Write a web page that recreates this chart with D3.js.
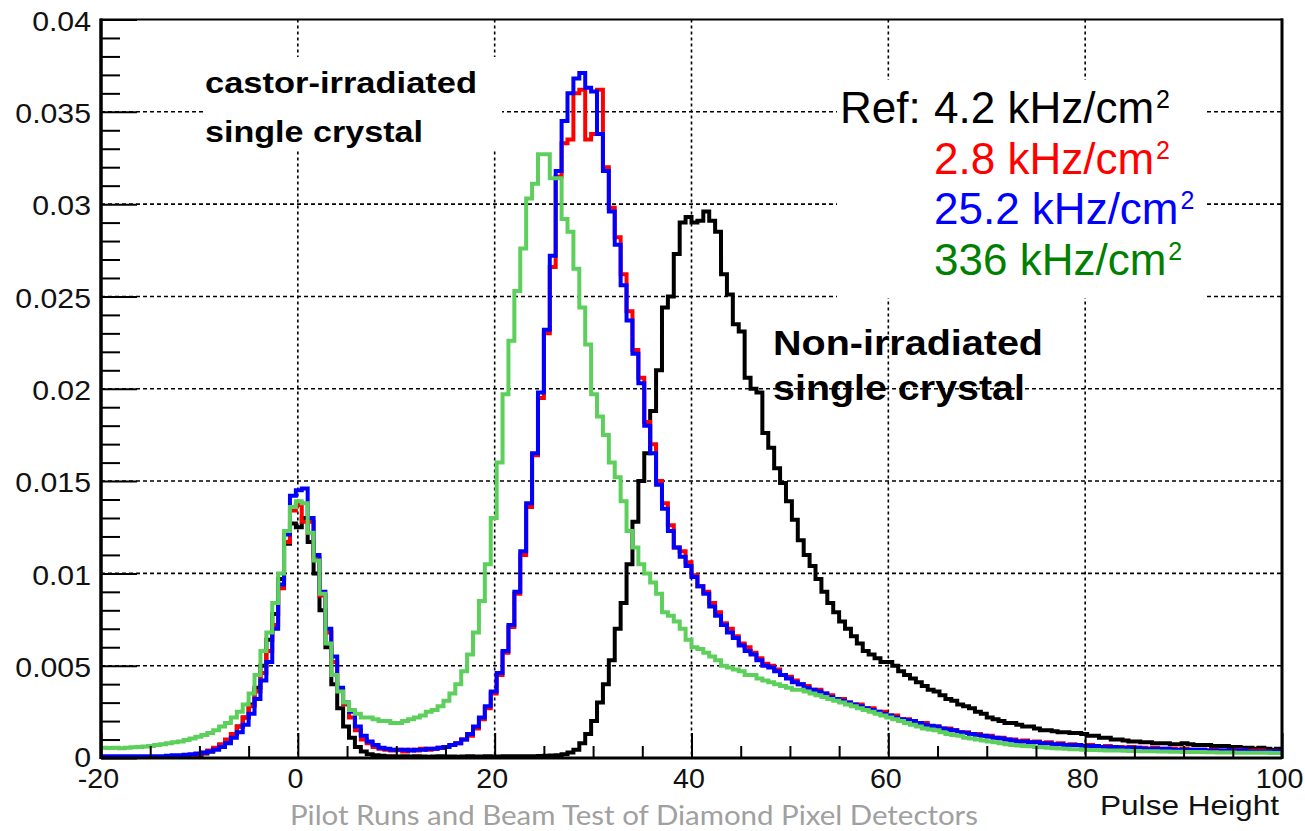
<!DOCTYPE html>
<html><head><meta charset="utf-8">
<script src="https://cdn.jsdelivr.net/npm/d3@7"></script>
<style>html,body{margin:0;padding:0;background:#fff;} svg{display:block;}</style>
</head><body>
<svg id="chart" width="1305" height="831"></svg>
<script>
// ---- data (bin contents in units of 1e-4, bins of 0.6 from -20 to 100) ----
const UNIT = 1e-4;
const BIN_START = -20, BIN_WIDTH = 0.6;

const refBlack = [
0.5,0.5,0.5,0.5,0.5,0.5,0.5,0.5,0.5,0.5,
0.5,0.6,0.7,0.8,1.0,1.2,1.6,2.4,3.5,5,
7,9.5,13,17,22,29,38,50,64,78,
97,116,127,125,130,117,100,80,60,40,
27,17,11,6,3.5,2,1.5,1.2,1.0,0.9,
0.8,1.0,0.8,0.9,0.8,0.7,0.8,0.9,0.8,0.8,
0.7,0.8,0.9,0.8,0.8,0.9,0.8,0.8,0.9,0.9,
1.0,0.9,1.0,1.0,1.1,1.2,1.3,1.5,2,3,
4.5,8,13,20,30,40,53,70,84,105,
128,150,165,188,210,244,250,273,290,293,
290,291,296,291,285,262,251,235,231,206,
200,198,176,168,157,149,139,129,118,110,
104,97,90,84,79,74,70,66,62,58,
56,54,52,52,50,47,45,43,41,39,
37,36,34,32,31,29,28,27,25,24,
22,21,20,19,19,18,17,17,16,15,
15,14.5,14,14,13.5,13.5,13,12,12,11,
11,10,10,9.5,9,9,8.5,8.5,8,8,
8,7.5,7.5,8,7.5,7,7,7,6.5,6.5,
6.5,6,6,5.5,5.5,5,5.5,5,4.5,5];

const red28 = [
0.5,0.4,0.6,0.5,0.5,0.4,0.6,0.5,0.6,0.5,
0.6,0.7,0.8,1.0,1.2,1.5,2,2.8,4,5.5,
7.5,10,13,17,22,28,36,46,58,72,
92,117,134,137,128,128,108,88,68,52,
37,29,22,15,10,8,6,5,4.5,4,
4.5,3.5,4.5,4,5,4.5,5,5.5,6,7,
8,10,12,16,21,27,35,45,57,71,
89,110,136,164,195,230,266,315,333,335,
360,362,335,338,362,320,298,282,262,242,
221,206,182,170,150,138,126,114,112,106,
99,93,90,84,79,73,70,66,62,60,
57,54,51,50,48,45,44,42,40,39,
37,37,35,34,32,32,30,29,29,27,
27,25,25,23,23,21,21,20,19,19,
17,17,16,16,15,14,14,13,13,12,
12,11,11,10,10,9,9.5,8.5,9,8,
8.5,7.5,8,7,7.5,7,6.5,7,6.5,6,
6.5,6,6,5.5,6,5.5,5.5,5,5.5,5,
5,5,4.5,5,4.5,4.5,4.5,4,4.5,4,
4,4,4.5,4,3.5,4,4,3.5,3.5,3.5];

const blue252 = [
1,1,1,1,1,1,1,1,1,1,
1,1.2,1.5,1.5,1.8,2,2.5,3,3.5,4.5,
6,8,11,14,18,24,32,42,52,70,
94,121,142,145,146,130,110,90,70,55,
38,30,25,17,12,9,7,5.5,5,4.5,
4.5,4.5,4,4.5,4.5,5,5,5.5,6,7,
8,10,13,17,22,28,36,46,58,72,
90,112,138,165,198,232,272,318,345,360,
368,371,363,361,338,318,296,278,256,237,
219,203,180,165,148,135,123,114,109,104,
98,93,89,82,77,72,68,65,61,58,
56,53,50,49,47,45,43,41,40,38,
37,36,35,33,32,31,30,29,28,27,
26,25,24,23,22,21,20.5,20,19,18,
17.5,17,16,15.5,15,14,13.5,13,12.5,12,
11.5,11,10.5,10,9.5,9,9,8.5,8.5,8,
8,7.5,7.5,7,7,7,6.5,6.5,6.5,6,
6,6,5.5,5.5,5.5,5.5,5,5,5,5,
5,4.5,4.5,4.5,4.5,4.5,4.5,4,4,4,
4,4,4,4,3.5,3.5,3.5,3.5,3.5,3.5];

const green336 = [
5.5,5.4,5.5,5.3,5.6,5.8,6.0,6.2,6.5,7,
7.5,8,8.5,9,9.7,10.5,11.5,12.5,13.5,15,
17,19,22,25,29,35,45,58,68,84,
100,123,136,139,138,122,107,89,62,45,
36,30,26,24,22,22,21,20,20,19,
19,20,21,22,23,25,26,28,31,35,
40,47,56,68,85,105,130,160,197,226,
253,276,303,311,327,327,314,314,292,285,
265,244,224,197,185,175,160,152,139,123,
114,105,100,95,89,79,77,74,70,64,
60,59,57,55,53,50,49,48,47,45,
45,43,42,41,40,39,38,37,37,36,
35,34,33,32,31,30,29,28,27,26,
25,24,23,22,21,20,19,18,17,16,
15.5,15,14,13,12.5,12,11,10.5,10,9.5,
9,8.5,8,7.5,7,6.8,6.5,6.3,6,5.8,
5.5,5.3,5.2,5,4.8,4.7,4.5,4.4,4.3,4.2,
4.1,4.0,4.0,3.9,3.8,3.8,3.7,3.6,3.6,3.5,
3.5,3.4,3.4,3.3,3.3,3.2,3.2,3.1,3.1,3.0,
3.0,3.0,2.9,2.9,2.9,2.8,2.8,2.8,2.7,2.7];

const xTickValues = [-20, 0, 20, 40, 60, 80, 100];
const xTickLabels = ["-20", "0", "20", "40", "60", "80", "100"];
const yTickValues = [0, 0.005, 0.01, 0.015, 0.02, 0.025, 0.03, 0.035, 0.04];
const yTickLabels = ["0", "0.005", "0.01", "0.015", "0.02", "0.025", "0.03", "0.035", "0.04"];
const legendRates = ["4.2 kHz/cm", "2.8 kHz/cm", "25.2 kHz/cm", "336 kHz/cm"];
const legendColors = ["#000000", "#ff0000", "#0000ff", "#008000"];
const lineColors = ["#000000", "#ff0000", "#0000ff", "#5ccf5c"];
const xTitle = "Pulse Height";
const footer = "Pilot Runs and Beam Test of Diamond Pixel Detectors";

(function () {
const svg = d3.select("#chart");
const FONT = "'Liberation Sans', Arial, Helvetica, sans-serif";
const pL = 101, pR = 1282, pT = 19.5, pB = 758;
const x = d3.scaleLinear().domain([-20, 100]).range([pL, pR]);
const y = d3.scaleLinear().domain([0, 0.04]).range([pB, pT]);

svg.append("rect").attr("width", 1305).attr("height", 831).attr("fill", "#fff");

// grid
const grid = svg.append("g");
grid.selectAll("line.gx").data(xTickValues.slice(1, -1)).join("line")
  .attr("x1", d => x(d)).attr("x2", d => x(d)).attr("y1", pT).attr("y2", pB)
  .attr("stroke", "#000").attr("stroke-width", 1.6).attr("stroke-dasharray", "3,3");
grid.selectAll("line.gy").data(yTickValues.slice(1, -1)).join("line")
  .attr("y1", d => y(d)).attr("y2", d => y(d)).attr("x1", pL).attr("x2", pR)
  .attr("stroke", "#000").attr("stroke-width", 1.6).attr("stroke-dasharray", "4,3");

// white boxes behind the annotation / legend text
svg.append("rect").attr("x", 205).attr("y", 57).attr("width", 297).attr("height", 93).attr("fill", "#fff");
svg.append("rect").attr("x", 837).attr("y", 80).attr("width", 370).attr("height", 218).attr("fill", "#fff");

// histograms
svg.append("clipPath").attr("id", "plotclip").append("rect")
  .attr("x", pL).attr("y", pT).attr("width", pR - pL).attr("height", pB - pT);
const line = d3.line().x(d => x(d[0])).y(d => y(d[1])).curve(d3.curveStepAfter);
const seriesList = [refBlack, red28, blue252, green336];
const hg = svg.append("g").attr("clip-path", "url(#plotclip)");
seriesList.forEach((vals, k) => {
  const pts = vals.map((v, i) => [BIN_START + i * BIN_WIDTH, v * UNIT]);
  pts.push([BIN_START + vals.length * BIN_WIDTH, vals[vals.length - 1] * UNIT]);
  hg.append("path").attr("d", line(pts)).attr("fill", "none")
    .attr("stroke", lineColors[k]).attr("stroke-width", 4)
    .attr("stroke-linejoin", "miter").attr("stroke-linecap", "butt");
});

// frame
svg.append("rect").attr("x", pL).attr("y", pT).attr("width", pR - pL).attr("height", pB - pT)
  .attr("fill", "none").attr("stroke", "#000").attr("stroke-width", 2);
svg.append("line").attr("x1", pL).attr("x2", pL).attr("y1", pT - 1).attr("y2", pB + 1)
  .attr("stroke", "#000").attr("stroke-width", 3.5);
svg.append("line").attr("x1", pR).attr("x2", pR).attr("y1", pT - 1).attr("y2", pB + 1)
  .attr("stroke", "#000").attr("stroke-width", 3);
svg.append("line").attr("x1", pL).attr("x2", pR).attr("y1", pB).attr("y2", pB)
  .attr("stroke", "#000").attr("stroke-width", 3);

// y axis ticks (pointing inwards)
const yMinor = d3.range(0, 41).map(i => i * 0.001).filter((v, i) => i % 5 !== 0);
const yMajAxis = d3.axisRight(y).tickValues(yTickValues).tickSize(36).tickFormat("");
const yMinAxis = d3.axisRight(y).tickValues(yMinor).tickSize(19).tickFormat("");
[yMajAxis, yMinAxis].forEach(a => {
  const g = svg.append("g").attr("transform", `translate(${pL},0)`).call(a);
  g.select(".domain").remove();
  g.selectAll("line").attr("stroke", "#000").attr("stroke-width", 2);
});
const yLab = svg.append("g").attr("transform", `translate(${pL},0)`)
  .call(d3.axisLeft(y).tickValues(yTickValues).tickSize(0).tickPadding(10)
    .tickFormat((d, i) => yTickLabels[i]));
yLab.select(".domain").remove();
yLab.selectAll("text").attr("font-family", FONT).attr("font-size", 27).attr("fill", "#111")
  .attr("dy", (d, i) => i === 0 ? "0.3em" : "0.4em")
  .each(function () { const w = this.getComputedTextLength(); d3.select(this).attr("textLength", w * 1.12).attr("lengthAdjust", "spacingAndGlyphs"); });

// x axis ticks (pointing up)
const xMinor = d3.range(-20, 101, 5).filter(v => v % 20 !== 0);
const xMajAxis = d3.axisTop(x).tickValues(xTickValues).tickSize(25).tickFormat("");
const xMinAxis = d3.axisTop(x).tickValues(xMinor).tickSize(12).tickFormat("");
[xMajAxis, xMinAxis].forEach(a => {
  const g = svg.append("g").attr("transform", `translate(0,${pB})`).call(a);
  g.select(".domain").remove();
  g.selectAll("line").attr("stroke", "#000").attr("stroke-width", 2);
});
const xLab = svg.append("g").attr("transform", `translate(-3,${pB})`)
  .call(d3.axisBottom(x).tickValues(xTickValues).tickSize(0).tickPadding(11)
    .tickFormat((d, i) => xTickLabels[i]));
xLab.select(".domain").remove();
xLab.selectAll("text").attr("font-family", FONT).attr("font-size", 27).attr("fill", "#111")
  .each(function () { const w = this.getComputedTextLength(); d3.select(this).attr("textLength", w * 1.06).attr("lengthAdjust", "spacingAndGlyphs"); });

svg.append("text").attr("x", 1279).attr("y", 815).attr("text-anchor", "end")
  .attr("font-family", FONT).attr("font-size", 28).attr("fill", "#111")
  .attr("textLength", 179).attr("lengthAdjust", "spacingAndGlyphs").text(xTitle);

function boldText(tx, ty, size, len, str) {
  svg.append("text").attr("x", tx).attr("y", ty).attr("font-family", FONT)
    .attr("font-weight", "bold").attr("font-size", size).attr("fill", "#000")
    .attr("textLength", len).attr("lengthAdjust", "spacingAndGlyphs").text(str);
}
boldText(205, 93, 30, 272, "castor-irradiated");
boldText(205, 141.5, 30, 218, "single crystal");
boldText(773, 355, 35, 270, "Non-irradiated");
boldText(773, 400, 35, 252, "single crystal");

const legY = [123, 173.5, 224, 274.5];
svg.append("text").attr("x", 840).attr("y", legY[0]).attr("font-family", FONT)
  .attr("font-size", 44).attr("fill", "#000").text("Ref:");
legendRates.forEach((t, i) => {
  const tx = svg.append("text").attr("x", 934).attr("y", legY[i]).attr("font-family", FONT)
    .attr("font-size", 44).attr("fill", legendColors[i]);
  tx.append("tspan").text(t);
  tx.append("tspan").attr("dy", -15).attr("dx", 2).attr("font-size", 25).text("2");
});

svg.append("text").attr("x", 290).attr("y", 825).attr("font-family", "Lato, 'Open Sans', sans-serif")
  .attr("font-size", 26).attr("fill", "#a0a0a0")
  .attr("textLength", 688).attr("lengthAdjust", "spacingAndGlyphs").text(footer);
})();
</script>
</body></html>
